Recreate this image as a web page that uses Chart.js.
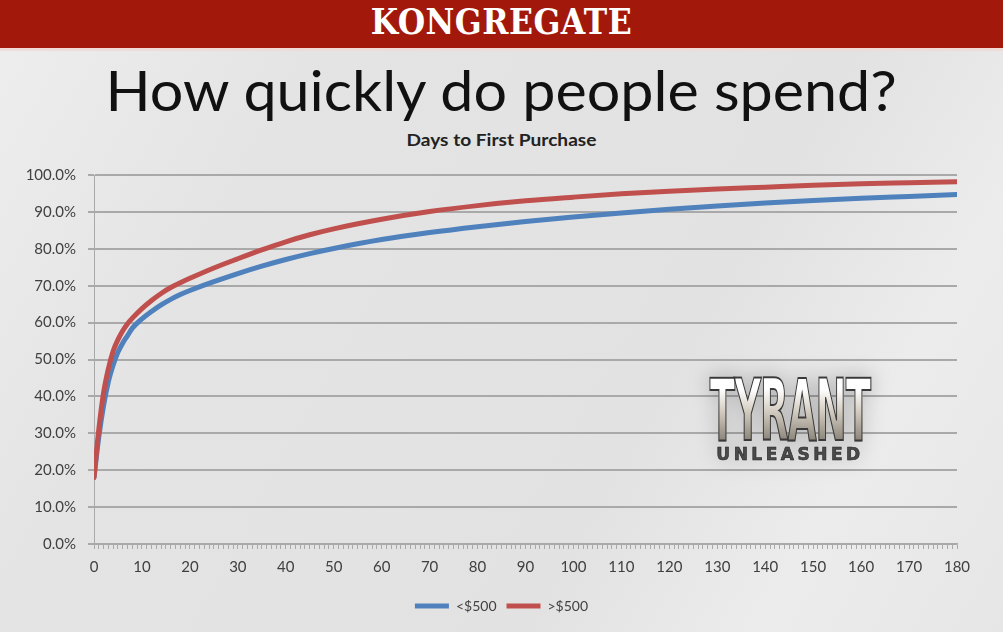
<!DOCTYPE html>
<html>
<head>
<meta charset="utf-8">
<title>How quickly do people spend?</title>
<script src="https://cdn.jsdelivr.net/npm/chart.js@4.4.1/dist/chart.umd.min.js"></script>
<style>
  html, body { margin: 0; padding: 0; }
  body {
    width: 1003px; height: 632px; overflow: hidden; position: relative;
    background: linear-gradient(120deg, #eeeeee 0%, #e4e4e4 25%, #e2e2e2 65%, #ececec 82%, #e6e6e6 100%);
    font-family: 'Lato', sans-serif;
  }
  #topbar {
    position: absolute; left: 0; top: 0; width: 1003px; height: 48px;
    background: #a2190c; border-bottom: 3px solid #efdcd8;
  }
  #brand {
    position: absolute; left: 0; top: 1px; width: 1003px; text-align: center;
    color: #fff; font-family: 'DejaVu Serif Condensed', 'DejaVu Serif', serif;
    font-weight: bold; font-size: 35px; letter-spacing: 0.5px;
  }
  #headline {
    position: absolute; left: 0; top: 56px; width: 1003px; text-align: center;
    font-size: 56px; color: #111; white-space: nowrap;
  }
  #headline span { display: inline-block; transform-origin: center; }
  #subtitle {
    position: absolute; left: 0; top: 129px; width: 1003px; text-align: center;
    font-size: 17px; font-weight: bold; color: #222; white-space: nowrap;
  }
  #subtitle span { display: inline-block; transform-origin: center; }
  #wrap { position: absolute; left: 0; top: 0; width: 1003px; height: 632px; }
  #logo {
    position: absolute; left: 600px; top: 368px; width: 380px; text-align: center;
    filter: drop-shadow(0 0 10px rgba(0,0,0,0.25));
  }
  #logo .big {
    font-family: 'DejaVu Sans Condensed', 'DejaVu Sans', sans-serif; font-weight: bold;
    font-size: 86px; line-height: 84px; letter-spacing: -2px;
    background: linear-gradient(180deg, #ffffff 25%, #d6cfc4 50%, #8e877c 85%);
    -webkit-background-clip: text; background-clip: text; color: transparent;
    -webkit-text-stroke: 2px #3a3a3a;
    display: inline-block; transform: scaleX(0.48);
  }
  #logo .small {
    font-family: 'DejaVu Sans', sans-serif; font-weight: bold; font-size: 17px;
    letter-spacing: 3.5px; color: #4a4a4a; -webkit-text-stroke: 0.6px #222;
    margin-top: -8px;
  }
</style>
</head>
<body>
<div id="topbar"><div id="brand">KONGREGATE</div></div>
<div id="headline"><span id="headText">How quickly do people spend?</span></div>
<div id="subtitle"><span id="subText">Days to First Purchase</span></div>
<div id="wrap"><canvas id="spendChart"></canvas></div>
<div id="logo"><div class="big">TYRANT</div><div class="small">UNLEASHED</div></div>

<script>
// days since install, with cumulative % of payers who made a first purchase
const days = [0, 1, 2, 3, 4, 5, 6, 7, 8, 10, 12, 14, 16, 18, 20, 25, 30, 35, 40, 45, 50,
  60, 70, 80, 90, 100, 110, 120, 130, 140, 150, 160, 170, 180];
const under500 = [18, 29, 37.5, 44, 48.5, 52, 54.5, 56.5, 58.5, 61, 63, 64.8, 66.3, 67.6, 68.7,
  71.1, 73.3, 75.3, 77.1, 78.7, 80.1, 82.5, 84.4, 86, 87.4, 88.6, 89.7, 90.7, 91.6, 92.4,
  93.1, 93.7, 94.2, 94.7];
const over500 = [18, 31, 41, 47.5, 52.3, 55.4, 57.8, 59.7, 61.2, 63.8, 66, 67.9, 69.5, 70.8, 72,
  74.8, 77.3, 79.7, 81.9, 83.8, 85.4, 88, 90.1, 91.7, 93, 94, 94.9, 95.6, 96.2, 96.7,
  97.2, 97.6, 97.9, 98.2];
const seriesNames = ['<$500', '>$500'];

const blue = '#4f81bd';
const red = '#c0504d';
const axisGrey = '#a9a9a9';
const labelGrey = '#404040';

// squeeze the slide texts to the widths they have on the slide
const fitWidth = (id, w) => {
  const el = document.getElementById(id);
  el.style.transform = 'scaleX(' + (w / el.offsetWidth) + ')';
};
fitWidth('headText', 791);
fitWidth('subText', 190);

const toPoints = vals => days.map((d, i) => ({ x: d, y: vals[i] }));

// the slide's legend sits under the middle of the page, not of the left part
const legendNudge = {
  id: 'legendNudge',
  afterLayout(chart) {
    chart.legend.left += 23;
    chart.legend.right += 23;
  }
};

new Chart(document.getElementById('spendChart'), {
  type: 'line',
  data: {
    datasets: [
      {
        label: seriesNames[0],
        data: toPoints(under500),
        borderColor: blue,
        backgroundColor: blue,
        borderWidth: 5,
        pointRadius: 0,
        cubicInterpolationMode: 'monotone',
        borderCapStyle: 'round',
        order: 1
      },
      {
        label: seriesNames[1],
        data: toPoints(over500),
        borderColor: red,
        backgroundColor: red,
        borderWidth: 5,
        pointRadius: 0,
        cubicInterpolationMode: 'monotone',
        borderCapStyle: 'round',
        order: 0
      }
    ]
  },
  plugins: [legendNudge],
  options: {
    responsive: true,
    maintainAspectRatio: false,
    animation: false,
    layout: { padding: { left: 0, right: 46, top: 175, bottom: 9 } },
    plugins: {
      tooltip: { enabled: false },
      legend: {
        position: 'bottom',
        labels: {
          usePointStyle: true,
          pointStyle: 'line',
          pointStyleWidth: 34,
          color: labelGrey,
          font: { family: 'Lato', size: 14 },
          padding: 10,
          sort: (a, b) => a.datasetIndex - b.datasetIndex
        }
      }
    },
    scales: {
      x: {
        type: 'linear',
        min: 0,
        max: 180,
        afterFit: s => { s.height = 45; },
        ticks: {
          stepSize: 1,
          autoSkip: false,
          maxRotation: 0,
          minRotation: 0,
          padding: 9,
          color: labelGrey,
          font: { family: 'Lato', size: 15 },
          callback: v => (v % 10 === 0 ? v : '')
        },
        grid: { drawOnChartArea: false, drawTicks: true, tickLength: 5, color: axisGrey, lineWidth: 1 },
        border: { color: axisGrey, width: 1.5 }
      },
      y: {
        min: 0,
        max: 100,
        afterFit: s => { s.width = 94; },
        ticks: {
          stepSize: 10,
          padding: 12,
          color: labelGrey,
          font: { family: 'Lato', size: 15 },
          callback: v => v.toFixed(1) + '%'
        },
        grid: { color: axisGrey, lineWidth: 2, tickLength: 6, drawTicks: true },
        border: { color: axisGrey, width: 1 }
      }
    }
  }
});
</script>
</body>
</html>
